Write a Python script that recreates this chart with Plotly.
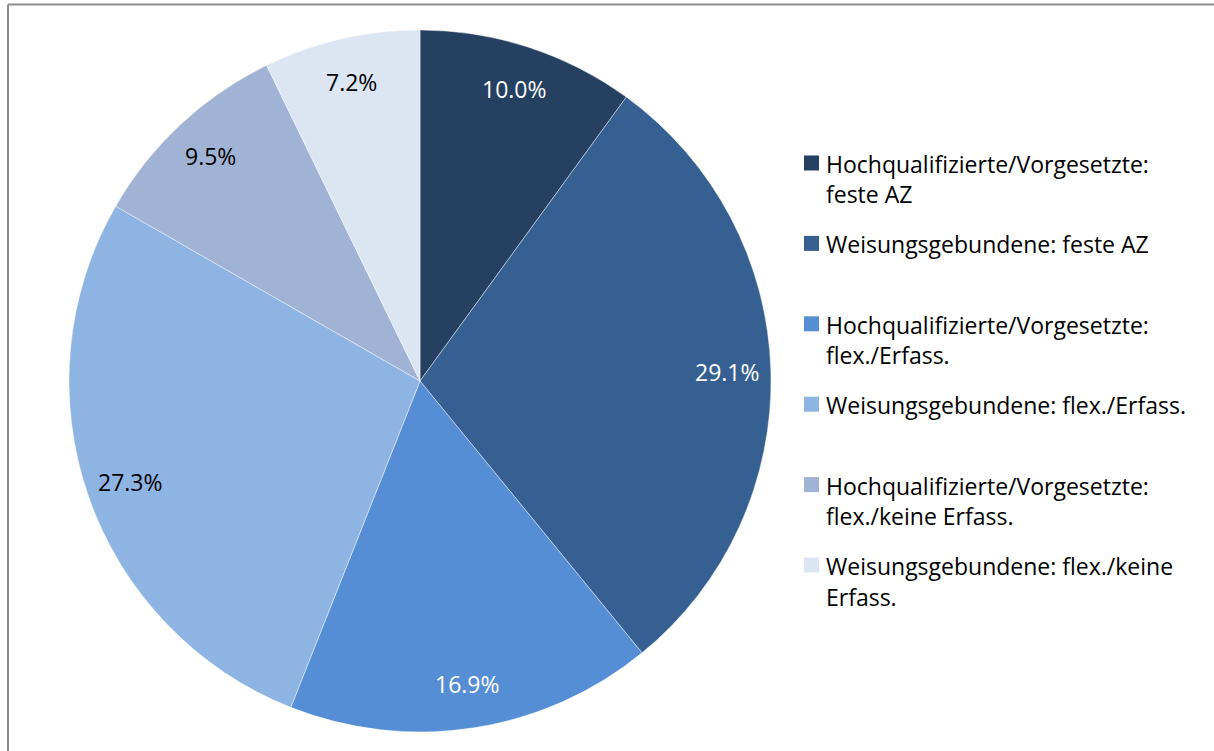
import math
import plotly.graph_objects as go

labels = [
    "Hochqualifizierte/Vorgesetzte:<br>feste AZ",
    "Weisungsgebundene: feste AZ",
    "Hochqualifizierte/Vorgesetzte:<br>flex./Erfass.",
    "Weisungsgebundene: flex./Erfass.",
    "Hochqualifizierte/Vorgesetzte:<br>flex./keine Erfass.",
    "Weisungsgebundene: flex./keine<br>Erfass.",
]
values = [10.0, 29.1, 16.9, 27.3, 9.5, 7.2]
colors = ["#254061", "#376092", "#558ED5", "#8EB4E3", "#A1B3D5", "#DCE6F2"]
label_colors = ["white", "white", "white", "black", "black", "black"]

W, H = 1214, 751
cx, cy, R = 420, 381, 351
dom_x = [(cx - R) / W, (cx + R) / W]
dom_y = [(H - cy - R) / H, (H - cy + R) / H]

fig = go.Figure(go.Pie(
    labels=labels, values=values, sort=False, direction="clockwise", rotation=0,
    marker=dict(colors=colors, line=dict(color="rgba(255,255,255,0.6)", width=0.7)),
    textinfo="none", hoverinfo="label+percent", showlegend=False,
    domain=dict(x=dom_x, y=dom_y),
))

FONT = "'Open Sans', Lato, sans-serif"
FS = 23
total = sum(values)
cum = 0.0
anns = []
shapes = []
for v, c in zip(values, label_colors):
    mid = (cum + v / 2) / total * 2 * math.pi
    cum += v
    px = cx + 0.875 * R * math.sin(mid)
    py = cy - 0.875 * R * math.cos(mid)
    anns.append(dict(x=px / W, y=1 - py / H, xref="paper", yref="paper",
                     xanchor="center", yanchor="middle",
                     text=f"{v:.1f}%", showarrow=False,
                     font=dict(size=FS, color=c, family=FONT)))

# custom legend (Excel-style: equal slots, wrapped text)
leg_x_sq, sq = 804, 15
leg_x_txt = 824
leg_y0, leg_step, line_h = 163, 80.4, 30.5
for i, (lab, col) in enumerate(zip(labels, colors)):
    yc = leg_y0 + i * leg_step
    shapes.append(dict(type="rect", xref="paper", yref="paper",
                       x0=leg_x_sq / W, x1=(leg_x_sq + sq) / W,
                       y0=1 - (yc + sq / 2) / H, y1=1 - (yc - sq / 2) / H,
                       fillcolor=col, line=dict(width=0)))
    for j, part in enumerate(lab.split("<br>")):
        anns.append(dict(x=leg_x_txt / W, y=1 - (yc + j * line_h + 1) / H,
                         xref="paper", yref="paper", xanchor="left", yanchor="middle",
                         text=part, showarrow=False,
                         font=dict(size=FS, color="black", family=FONT)))

shapes += [
    dict(type="line", xref="paper", yref="paper", x0=8 / W, x1=1, y0=1 - 4.5 / H, y1=1 - 4.5 / H,
         line=dict(color="#8C8C8C", width=2)),
    dict(type="line", xref="paper", yref="paper", x0=8 / W, x1=8 / W, y0=0, y1=1 - 4.5 / H,
         line=dict(color="#8C8C8C", width=2)),
]

fig.update_layout(
    width=W, height=H,
    margin=dict(l=0, r=0, t=0, b=0),
    paper_bgcolor="white",
    showlegend=False,
    annotations=anns,
    shapes=shapes,
)

fig.write_html("out.html", config={"displayModeBar": False},
               post_script="document.body.style.margin='0';document.body.style.padding='0';")
